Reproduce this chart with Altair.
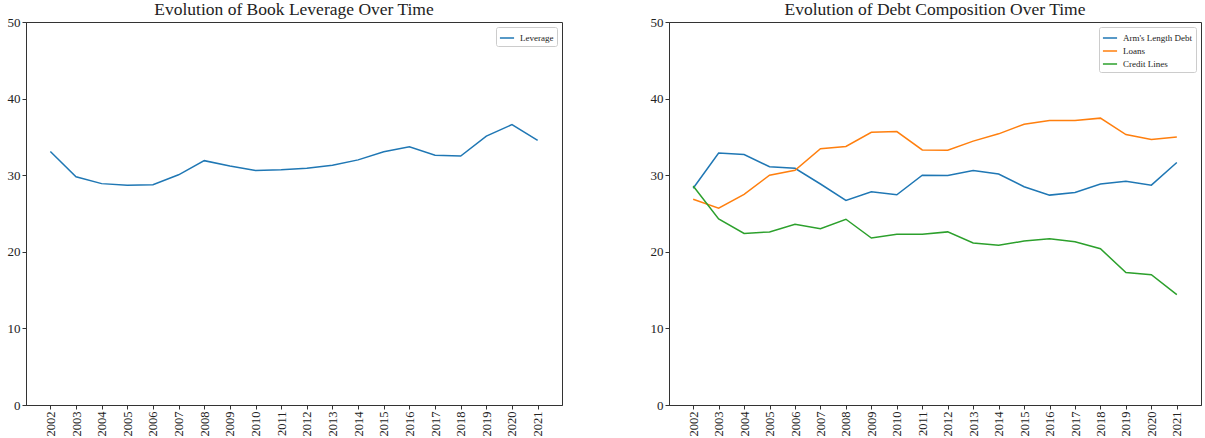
import altair as alt
import pandas as pd

years = list(range(2002, 2022))

leverage = [33.1, 29.8, 28.9, 28.7, 28.75, 30.05, 31.9, 31.2, 30.6, 30.7,
            30.9, 31.3, 32.0, 33.05, 33.7, 32.6, 32.5, 35.1, 36.6, 34.55]

arms_length = [28.3, 32.9, 32.7, 31.1, 30.9, 28.85, 26.7, 27.85, 27.45, 30.0,
               29.95, 30.6, 30.15, 28.5, 27.4, 27.75, 28.85, 29.2, 28.7, 31.65]
loans = [26.85, 25.7, 27.5, 30.0, 30.65, 33.45, 33.75, 35.6, 35.7, 33.3,
         33.25, 34.45, 35.4, 36.65, 37.15, 37.15, 37.45, 35.3, 34.65, 35.0]
credit_lines = [28.6, 24.3, 22.4, 22.6, 23.6, 23.0, 24.25, 21.8, 22.3, 22.3,
                22.6, 21.15, 20.85, 21.4, 21.7, 21.3, 20.4, 17.3, 17.0, 14.4]

left_series = ["Leverage"]
right_series = ["Arm's Length Debt", "Loans", "Credit Lines"]
colors_left = ["#1f77b4"]
colors_right = ["#1f77b4", "#ff7f0e", "#2ca02c"]

df_left = pd.DataFrame({"year": years, "value": leverage, "series": "Leverage"})
df_right = pd.concat([
    pd.DataFrame({"year": years, "value": arms_length, "series": right_series[0]}),
    pd.DataFrame({"year": years, "value": loans, "series": right_series[1]}),
    pd.DataFrame({"year": years, "value": credit_lines, "series": right_series[2]}),
])

FONT = "Liberation Serif"

x_enc = alt.X("year:Q",
              scale=alt.Scale(domain=[2001.05, 2021.95], nice=False, zero=False),
              axis=alt.Axis(values=years, format="d", labelAngle=270, title=None,
                            labelFontSize=12.5, labelPadding=2, tickSize=4,
                            grid=False, labelBaseline="middle", labelAlign="right"))
y_enc = alt.Y("value:Q",
              scale=alt.Scale(domain=[0, 50], nice=False),
              axis=alt.Axis(values=[0, 10, 20, 30, 40, 50], title=None,
                            labelFontSize=13, labelPadding=2, tickSize=4, grid=False))


def legend():
    return alt.Legend(title=None, orient="top-right", offset=5,
                      symbolType="stroke", symbolStrokeWidth=1.5, symbolSize=200,
                      labelFontSize=9, labelFont=FONT, padding=3,
                      strokeColor="#cccccc", fillColor="white", cornerRadius=2,
                      rowPadding=0, labelColor="#222222", labelOffset=5)


left = alt.Chart(df_left, title=alt.Title("Evolution of Book Leverage Over Time")).mark_line(strokeWidth=1.5).encode(
    x=x_enc, y=y_enc,
    color=alt.Color("series:N", scale=alt.Scale(domain=left_series, range=colors_left), legend=legend()),
).properties(width=536, height=383)

right = alt.Chart(df_right, title=alt.Title("Evolution of Debt Composition Over Time")).mark_line(strokeWidth=1.5).encode(
    x=x_enc, y=y_enc,
    color=alt.Color("series:N", scale=alt.Scale(domain=right_series, range=colors_right),
                    sort=right_series, legend=legend()),
).properties(width=532, height=383)

chart = alt.hconcat(left, right, spacing=86).resolve_scale(color="independent").properties(
    padding={"left": 6, "top": 0, "right": 0, "bottom": 0},
    background="white",
).configure_view(stroke="#333333", strokeWidth=1).configure_axis(
    labelFont=FONT, domainColor="#333333", tickColor="#333333", labelColor="#222222",
).configure_title(font=FONT, fontSize=17.5, fontWeight="normal", offset=-2, color="#222222")

chart.save("out.html", embed_options={"renderer": "svg", "actions": False})
